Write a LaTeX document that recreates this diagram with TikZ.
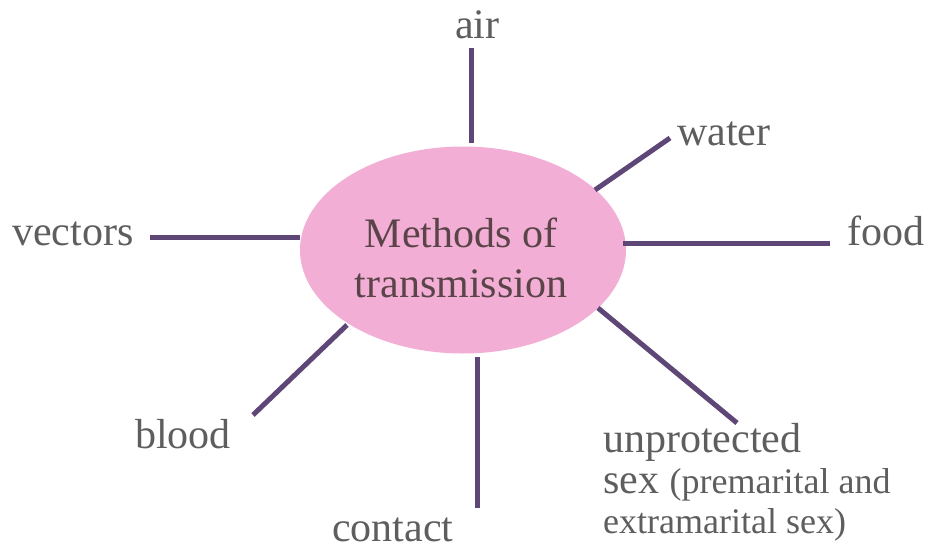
\documentclass[tikz,border=0pt]{standalone}
\usepackage{fontspec}
\setmainfont{Liberation Serif}
\usetikzlibrary{shapes.geometric}
\definecolor{pinkfill}{HTML}{F3AED6}
\definecolor{linepurple}{HTML}{5E4676}
\definecolor{labelgray}{HTML}{5E5E5E}
\definecolor{centertext}{HTML}{5A4448}
\tikzset{
  conn/.style={draw=linepurple, line width=5pt},
  lbl/.style={anchor=base west, inner sep=0pt, text=labelgray, font=\fontsize{42}{40}\selectfont},
}
\begin{document}
\begin{tikzpicture}[x=1pt,y=-1pt]
\useasboundingbox (0,0) rectangle (930,554);
\fill[white] (0,0) rectangle (930,554);
\node[ellipse, fill=pinkfill, minimum width=326pt, minimum height=207pt, inner sep=0pt] (m) at (463,250) {};
\node[align=center, text=centertext, font=\fontsize{42}{50}\selectfont, inner sep=0pt] (mt) at (461,258) {Methods of\\transmission};
% labels
\node[lbl] (air) at (455,38) {air};
\node[lbl] (water) at (677,145) {water};
\node[lbl] (food) at (847,245) {food};
\node[lbl] (vectors) at (12,245) {vectors};
\node[lbl] (blood) at (135,448) {blood};
\node[lbl] (contact) at (332,541) {contact};
\node[lbl] (unprot) at (603,452) {unprotected};
\node[lbl] (sex) at (603,493) {sex {\fontsize{36}{40}\selectfont(premarital and}};
\node[lbl, font=\fontsize{36}{40}\selectfont] (extra) at (603,533) {extramarital sex)};
% connector end points
\coordinate (airA) at (471,143);  \coordinate (airB) at (471,48);
\coordinate (watA) at (595,190);  \coordinate (watB) at (670,138);
\coordinate (fooA) at (623,243);  \coordinate (fooB) at (830,243);
\coordinate (vecA) at (300,237);  \coordinate (vecB) at (150,237);
\coordinate (bloA) at (347,325);  \coordinate (bloB) at (253,415);
\coordinate (conA) at (477,357);  \coordinate (conB) at (477,508);
\coordinate (unpA) at (598,308);  \coordinate (unpB) at (737,423);
\draw[conn] (airA) -- (airB);
\draw[conn] (watA) -- (watB);
\draw[conn] (fooA) -- (fooB);
\draw[conn] (vecA) -- (vecB);
\draw[conn] (bloA) -- (bloB);
\draw[conn] (conA) -- (conB);
\draw[conn] (unpA) -- (unpB);
\end{tikzpicture}
\end{document}
